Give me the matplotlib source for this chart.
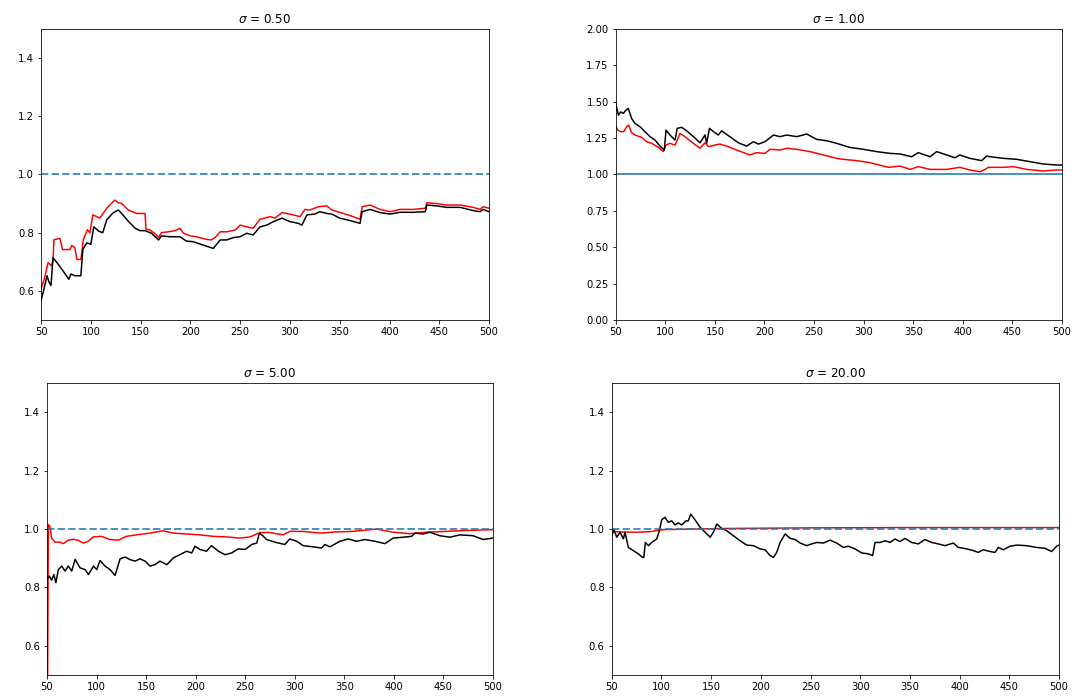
import matplotlib
matplotlib.use('Agg')
import matplotlib.pyplot as plt

# sigma = 0.50
s050_red_x = [50, 53.7, 57, 60.5, 62, 63, 69, 71.6, 79, 81,
              84, 86, 90, 92.5, 96.6, 99, 102, 106, 109, 116,
              124, 127.5, 131, 137.7, 146, 154.4, 155.5, 159, 164, 168,
              171, 178, 184.5, 189.5, 193, 200, 206, 216, 221, 225,
              230, 236.5, 245, 250, 256.6, 263, 270, 280, 285, 292,
              303.5, 310, 315, 320, 328.6, 337, 342, 353.7, 362, 370.4,
              372.5, 380.5, 390.5, 400.6, 410.6, 424, 436, 437.5, 447.5, 457.5,
              471, 484, 491, 494, 500]
s050_red_y = [0.607, 0.646, 0.697, 0.686, 0.703, 0.776, 0.78, 0.742, 0.742, 0.756,
              0.748, 0.708, 0.708, 0.776, 0.81, 0.80, 0.861, 0.855, 0.85, 0.884,
              0.912, 0.903, 0.90, 0.878, 0.866, 0.866, 0.812, 0.81, 0.798, 0.784,
              0.80, 0.803, 0.807, 0.815, 0.798, 0.789, 0.786, 0.777, 0.775, 0.784,
              0.803, 0.803, 0.809, 0.826, 0.82, 0.815, 0.846, 0.855, 0.85, 0.869,
              0.861, 0.855, 0.88, 0.878, 0.889, 0.892, 0.878, 0.866, 0.857, 0.846,
              0.889, 0.895, 0.88, 0.872, 0.88, 0.88, 0.884, 0.903, 0.90, 0.895,
              0.895, 0.887, 0.88, 0.889, 0.884]
s050_blk_x = [50, 53, 56, 58, 60, 62, 66, 72, 78, 80,
              84, 90, 92, 96, 100, 103, 108, 112, 116, 122,
              127.5, 131, 138, 144.6, 149.5, 154.4, 161, 168, 171, 179.6,
              189.5, 196, 203, 213, 223, 230, 236.5, 243, 250, 256.6,
              263, 270, 276.7, 283.4, 292, 300, 308.5, 312, 317, 325,
              330, 337, 342, 350, 360, 370.4, 372.5, 380.5, 390.5, 400.6,
              410.6, 424, 436, 437.5, 447.5, 457.5, 471, 484, 491, 494,
              500]
s050_blk_y = [0.567, 0.607, 0.652, 0.63, 0.618, 0.714, 0.697, 0.669, 0.64, 0.658,
              0.652, 0.652, 0.742, 0.765, 0.76, 0.82, 0.805, 0.80, 0.844, 0.867,
              0.878, 0.866, 0.838, 0.815, 0.807, 0.807, 0.798, 0.775, 0.789, 0.786,
              0.786, 0.771, 0.769, 0.757, 0.746, 0.775, 0.775, 0.783, 0.786, 0.798,
              0.792, 0.82, 0.826, 0.838, 0.85, 0.838, 0.832, 0.826, 0.861, 0.864,
              0.872, 0.866, 0.864, 0.85, 0.842, 0.832, 0.872, 0.88, 0.869, 0.864,
              0.87, 0.87, 0.872, 0.895, 0.892, 0.887, 0.887, 0.876, 0.872, 0.88,
              0.872]

# sigma = 1.00
s100_red_x = [50, 52, 55, 58, 61, 63, 66, 69.4, 76.2, 81.2,
              86.3, 93, 98, 100.7, 104.7, 109.8, 112, 114.8, 119.8, 128.3,
              135, 140, 143.5, 150, 155, 161.8, 171.9, 185.3, 192, 200.5,
              205.6, 215.7, 222.4, 232.5, 246, 259.4, 272.8, 279.5, 293, 306.4,
              325, 336.7, 346.8, 355, 367, 383.7, 397, 407, 417.3, 422.4,
              425.7, 441, 451, 464.4, 481, 494.6, 500]
s100_red_y = [1.333, 1.305, 1.294, 1.294, 1.328, 1.34, 1.287, 1.271, 1.255, 1.225,
              1.214, 1.186, 1.157, 1.202, 1.214, 1.202, 1.237, 1.282, 1.26, 1.214,
              1.18, 1.218, 1.191, 1.202, 1.209, 1.195, 1.168, 1.134, 1.15, 1.145,
              1.173, 1.168, 1.18, 1.173, 1.157, 1.134, 1.111, 1.104, 1.095, 1.081,
              1.049, 1.058, 1.035, 1.054, 1.035, 1.035, 1.049, 1.031, 1.019, 1.035,
              1.049, 1.049, 1.054, 1.035, 1.024, 1.031, 1.031]
s100_blk_x = [50, 52.7, 55, 57.7, 60, 62.7, 66, 69.4, 74.5, 79.5,
              84.6, 89.6, 94.6, 99, 100.7, 104.7, 109.8, 112, 116.5, 121.5,
              128.3, 135, 140, 141.7, 144.5, 150, 153.4, 156.8, 165, 173.6,
              182, 188.8, 193.8, 200.5, 209, 215.7, 222.4, 232.5, 242.6, 252.7,
              262.7, 272.8, 286, 299.7, 313, 326.6, 336.7, 348.4, 355, 367,
              373.6, 383.7, 392, 397, 407, 419, 424, 427.4, 441, 454.3,
              467.8, 481, 494.6, 500]
s100_blk_y = [1.488, 1.408, 1.43, 1.42, 1.44, 1.454, 1.385, 1.351, 1.328, 1.294,
              1.26, 1.237, 1.195, 1.168, 1.305, 1.271, 1.237, 1.317, 1.324, 1.30,
              1.26, 1.218, 1.271, 1.214, 1.317, 1.287, 1.271, 1.30, 1.26, 1.218,
              1.195, 1.225, 1.209, 1.225, 1.271, 1.26, 1.271, 1.26, 1.278, 1.241,
              1.232, 1.214, 1.186, 1.173, 1.157, 1.145, 1.141, 1.122, 1.15, 1.122,
              1.157, 1.134, 1.115, 1.134, 1.111, 1.095, 1.127, 1.122, 1.111, 1.104,
              1.088, 1.072, 1.065, 1.065]

# sigma = 5.00
s500_red_x = [50, 51.4, 53, 54.7, 58, 63, 66.5, 71.6, 76.7, 81.6,
              86.7, 91.7, 96.8, 105, 113.5, 122, 130.3, 140.4, 153.9, 167,
              177.5, 191, 204.4, 217.9, 231.4, 244.8, 254.9, 265, 275, 288.4,
              295, 308.6, 325.4, 342, 359, 382.6, 399.4, 416, 433, 453,
              473.4, 500]
s500_red_y = [0.0, 1.015, 1.009, 0.969, 0.955, 0.955, 0.95, 0.962, 0.965, 0.961,
              0.952, 0.958, 0.973, 0.975, 0.964, 0.962, 0.975, 0.98, 0.986, 0.994,
              0.986, 0.983, 0.98, 0.975, 0.973, 0.969, 0.973, 0.988, 0.988, 0.98,
              0.992, 0.992, 0.986, 0.99, 0.992, 1.0, 0.989, 0.984, 0.989, 0.992,
              0.995, 0.998]
s500_blk_x = [50, 52.4, 54.7, 57, 59, 61.5, 64.9, 68.2, 71.6, 75,
              78.4, 83.4, 88.5, 91.9, 97, 100.2, 103.6, 108.6, 113.7, 118.7,
              123.8, 128.8, 133.9, 139, 144, 149, 154, 159, 164, 171,
              177.5, 184, 191, 196, 199.4, 204.4, 211, 216, 223, 229.6,
              236.3, 243, 250, 256.6, 261.7, 264.4, 268.4, 271.6, 280, 290,
              295, 302, 308.6, 318.7, 327, 330.5, 335.5, 345.6, 354, 362.4,
              370.8, 381, 391, 399.4, 409.5, 418, 421.3, 429.7, 436.4, 446.5,
              456.6, 466.7, 480, 490.2, 500]
s500_blk_y = [0.827, 0.839, 0.825, 0.844, 0.816, 0.861, 0.873, 0.856, 0.873, 0.856,
              0.896, 0.867, 0.861, 0.844, 0.873, 0.861, 0.892, 0.873, 0.861, 0.841,
              0.898, 0.904, 0.895, 0.89, 0.898, 0.89, 0.873, 0.878, 0.89, 0.878,
              0.901, 0.912, 0.924, 0.918, 0.941, 0.93, 0.924, 0.943, 0.924, 0.912,
              0.918, 0.932, 0.93, 0.947, 0.952, 0.986, 0.975, 0.964, 0.955, 0.947,
              0.966, 0.958, 0.943, 0.939, 0.935, 0.947, 0.939, 0.958, 0.966, 0.958,
              0.964, 0.958, 0.95, 0.969, 0.972, 0.975, 0.986, 0.983, 0.989, 0.977,
              0.972, 0.98, 0.977, 0.964, 0.969]

# sigma = 20.00
s2000_red_x = [50, 60, 75, 88.5, 102, 132, 170, 250, 350, 450, 500]
s2000_red_y = [0.991, 0.99, 0.989, 0.991, 0.998, 1.0, 1.002, 1.004, 1.005, 1.005, 1.005]
s2000_blk_x = [50, 52.3, 55, 58.4, 61.7, 63.4, 66.7, 71.8, 76.8, 80.8,
               82.3, 83.8, 86.9, 90.2, 95.3, 97.9, 100.3, 103.6, 107, 110.3,
               113.7, 117, 120.4, 124.7, 127, 129.5, 132, 135.5, 138.9, 144,
               149, 152.3, 155.7, 160.7, 165.7, 172.4, 179.1, 185.8, 192.6, 199.3,
               204.3, 209.3, 212.7, 216, 219.4, 224.4, 229.5, 234.5, 239.5, 246.2,
               251.2, 256.3, 263, 269.7, 276.3, 283, 288, 294.7, 301.5, 308.2,
               312.5, 314.9, 319.9, 325, 330, 335, 340, 345, 351.7, 358.5,
               365, 371.9, 378.6, 385.3, 393.7, 398.7, 407, 413.8, 418.8, 423.8,
               430.5, 435.6, 439, 444, 450.7, 457.4, 467.4, 477.5, 485.9, 492.6,
               497.6, 500]
s2000_blk_y = [0.975, 0.998, 0.972, 0.989, 0.966, 0.989, 0.937, 0.926, 0.915, 0.903,
               0.903, 0.954, 0.943, 0.954, 0.966, 0.994, 1.032, 1.04, 1.023, 1.028,
               1.014, 1.021, 1.014, 1.028, 1.028, 1.051, 1.04, 1.023, 1.006, 0.989,
               0.972, 0.989, 1.017, 1.002, 0.994, 0.977, 0.96, 0.945, 0.943, 0.932,
               0.929, 0.909, 0.903, 0.92, 0.954, 0.983, 0.968, 0.964, 0.952, 0.943,
               0.949, 0.954, 0.952, 0.962, 0.952, 0.937, 0.941, 0.932, 0.918, 0.915,
               0.909, 0.954, 0.954, 0.96, 0.954, 0.966, 0.957, 0.968, 0.954, 0.949,
               0.964, 0.954, 0.949, 0.943, 0.952, 0.937, 0.932, 0.926, 0.92, 0.929,
               0.923, 0.92, 0.937, 0.929, 0.941, 0.945, 0.943, 0.937, 0.934, 0.923,
               0.941, 0.945]

sigmas = [0.5, 1.0, 5.0, 20.0]
xticks = [50, 100, 150, 200, 250, 300, 350, 400, 450, 500]

panels = [
    (s050_red_x, s050_red_y, s050_blk_x, s050_blk_y),
    (s100_red_x, s100_red_y, s100_blk_x, s100_blk_y),
    (s500_red_x, s500_red_y, s500_blk_x, s500_blk_y),
    (s2000_red_x, s2000_red_y, s2000_blk_x, s2000_blk_y),
]

boxes = [
    [0.0381, 0.5429, 0.4160, 0.4157],
    [0.5717, 0.5429, 0.4144, 0.4157],
    [0.0436, 0.0357, 0.4141, 0.4171],
    [0.5680, 0.0357, 0.4153, 0.4171],
]

fig = plt.figure(figsize=(1077 / 72, 700 / 72), dpi=72)

for i, (rx, ry, bx, by) in enumerate(panels):
    assert len(rx) == len(ry) and len(bx) == len(by)
    ax = fig.add_axes(boxes[i])
    ax.plot(rx, ry, color='red', lw=1.5)
    ax.plot(bx, by, color='black', lw=1.5)
    if i == 1:
        ax.axhline(1.0, color='tab:blue', lw=2, alpha=0.8)
        ax.set_ylim(0, 2)
        ax.set_yticks([0, 0.25, 0.5, 0.75, 1.0, 1.25, 1.5, 1.75, 2.0])
    else:
        ax.axhline(1.0, color='tab:blue', lw=2, ls='--', alpha=0.8)
        ax.set_ylim(0.5, 1.5)
        ax.set_yticks([0.6, 0.8, 1.0, 1.2, 1.4])
    ax.set_xlim(50, 500)
    ax.set_xticks(xticks)
    ax.set_title(r'$\sigma$ = %.2f' % sigmas[i])

fig.savefig('out.png', dpi=72)
